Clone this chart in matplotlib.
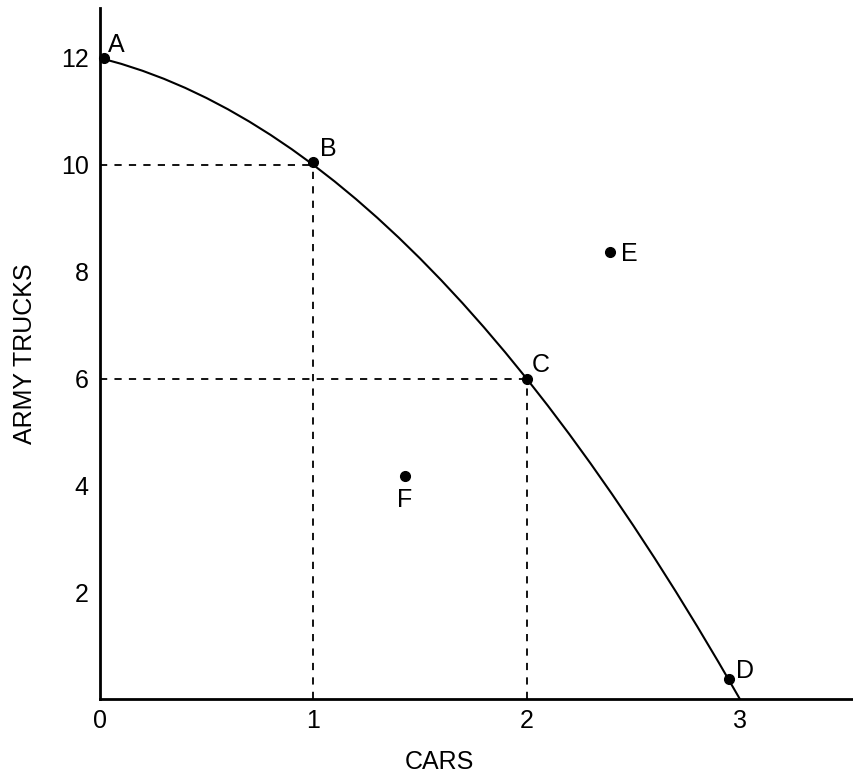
import matplotlib
matplotlib.use('Agg')
from matplotlib import pyplot as plt

plt.rcParams['font.family'] = ['Liberation Sans', 'DejaVu Sans']

# production possibilities curve
curve_x = [0, 0.1, 0.2, 0.3, 0.4, 0.5, 0.6, 0.7, 0.8, 0.9, 1.0,
           1.1, 1.2, 1.3, 1.4, 1.5, 1.6, 1.7, 1.8, 1.9, 2.0,
           2.1, 2.2, 2.3, 2.4, 2.5, 2.6, 2.7, 2.8, 2.9, 3.0]
curve_y = [12.0, 11.89, 11.76, 11.61, 11.44, 11.25, 11.04, 10.81, 10.56, 10.29, 10.0,
           9.69, 9.36, 9.01, 8.64, 8.25, 7.84, 7.41, 6.96, 6.49, 6.0,
           5.49, 4.96, 4.41, 3.84, 3.25, 2.64, 2.01, 1.36, 0.69, 0.0]

# labelled points
point_names = ['A', 'B', 'C', 'D', 'E', 'F']
point_x = [0.02, 1.0, 2.0, 2.95, 2.39, 1.43]
point_y = [12.0, 10.05, 6.0, 0.38, 8.37, 4.18]

# points with dashed guide lines
guide_x = [1, 2]
guide_y = [10, 6]

x_ticks = [0, 1, 2, 3]
y_ticks = [2, 4, 6, 8, 10, 12]

fig = plt.figure(figsize=(8.54, 7.75), dpi=100)
ax = fig.add_axes([0.117, 0.098, 0.883, 0.892])

ax.plot(curve_x, curve_y, color='black', lw=1.5)

for gx, gy in zip(guide_x, guide_y):
    ax.plot([0, gx], [gy, gy], color='black', lw=1.3, ls=(0, (4, 4)))
    ax.plot([gx, gx], [0, gy], color='black', lw=1.3, ls=(0, (4, 4)))

ax.plot(point_x, point_y, 'o', color='black', ms=7, clip_on=False)

# label offsets in points
offsets = {'A': (3, 1), 'B': (5, 1), 'C': (4, 1), 'D': (5, -3), 'E': (8, -10), 'F': (0, -26)}
for name, px, py in zip(point_names, point_x, point_y):
    dx, dy = offsets[name]
    ax.annotate(name, (px, py), xytext=(dx, dy), textcoords='offset points',
                fontsize=18, ha='left' if name != 'F' else 'center', va='bottom')

ax.set_xlim(0, 3.535)
ax.set_ylim(0, 12.94)
ax.set_xticks(x_ticks)
ax.set_yticks(y_ticks)
ax.tick_params(length=0, labelsize=18)
ax.tick_params(axis='x', pad=7)
ax.tick_params(axis='y', pad=8)

for s in ['top', 'right']:
    ax.spines[s].set_visible(False)
for s in ['left', 'bottom']:
    ax.spines[s].set_linewidth(2)

ax.set_xlabel('CARS', fontsize=18)
ax.xaxis.set_label_coords(0.45, -0.074)
ax.set_ylabel('ARMY TRUCKS', fontsize=18, labelpad=17)

fig.savefig('out.png', dpi=100)
